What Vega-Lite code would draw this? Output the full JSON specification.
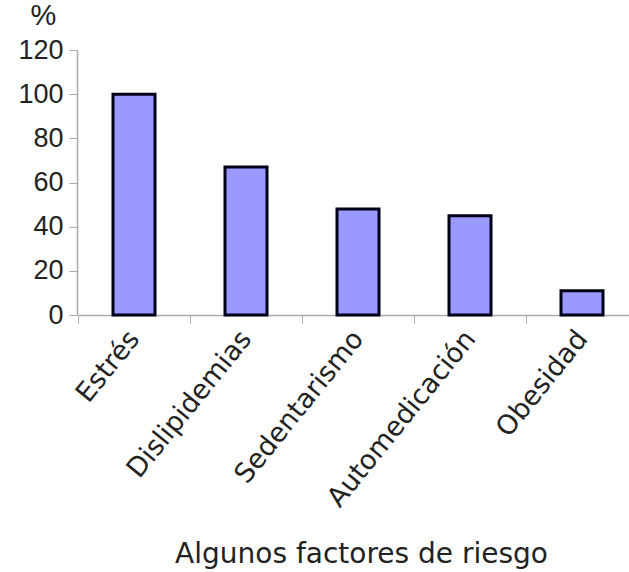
{
  "$schema": "https://vega.github.io/schema/vega-lite/v6.json",
  "autosize": "none",
  "width": 552,
  "height": 265,
  "padding": {"left": 77, "top": 50, "right": 0, "bottom": 257},
  "background": "white",
  "data": {
    "values": [
      {"factor": "Estrés", "pct": 100},
      {"factor": "Dislipidemias", "pct": 67},
      {"factor": "Sedentarismo", "pct": 48},
      {"factor": "Automedicación", "pct": 45},
      {"factor": "Obesidad", "pct": 11}
    ]
  },
  "mark": {"type": "bar", "size": 42, "fill": "#9999ff", "stroke": "#000018", "strokeWidth": 3},
  "encoding": {
    "x": {
      "field": "factor",
      "type": "nominal",
      "sort": null,
      "scale": {"paddingInner": 0, "paddingOuter": 0, "range": [1, 561]},
      "axis": {
        "title": "Algunos factores de riesgo",
        "titleFont": "DejaVu Sans",
        "titleFontSize": 28,
        "titleFontWeight": "normal",
        "titleColor": "#222222",
        "titleX": 284,
        "titleY": 225,
        "titleBaseline": "top",
        "labelAngle": -51,
        "labelFont": "DejaVu Sans",
        "labelFontSize": 27,
        "labelLimit": 0,
        "labelColor": "#222222",
        "labelPadding": 11,
        "tickBand": "extent",
        "tickSize": 8,
        "tickColor": "#aaaaaa",
        "domainColor": "#aaaaaa",
        "domainWidth": 1.5,
        "grid": false
      }
    },
    "y": {
      "field": "pct",
      "type": "quantitative",
      "scale": {"domain": [0, 120], "nice": false},
      "axis": {
        "title": "%",
        "titleAngle": 0,
        "titleFont": "Liberation Sans",
        "titleFontSize": 29,
        "titleFontWeight": "normal",
        "titleColor": "#222222",
        "titleAlign": "left",
        "titleBaseline": "alphabetic",
        "titleX": -47,
        "titleY": -26,
        "values": [0, 20, 40, 60, 80, 100, 120],
        "labelFont": "Liberation Sans",
        "labelFontSize": 27,
        "labelColor": "#222222",
        "labelPadding": 6,
        "tickSize": 8,
        "tickColor": "#aaaaaa",
        "domainColor": "#aaaaaa",
        "domainWidth": 1.5,
        "grid": false
      }
    }
  },
  "config": {"view": {"stroke": null}}
}
